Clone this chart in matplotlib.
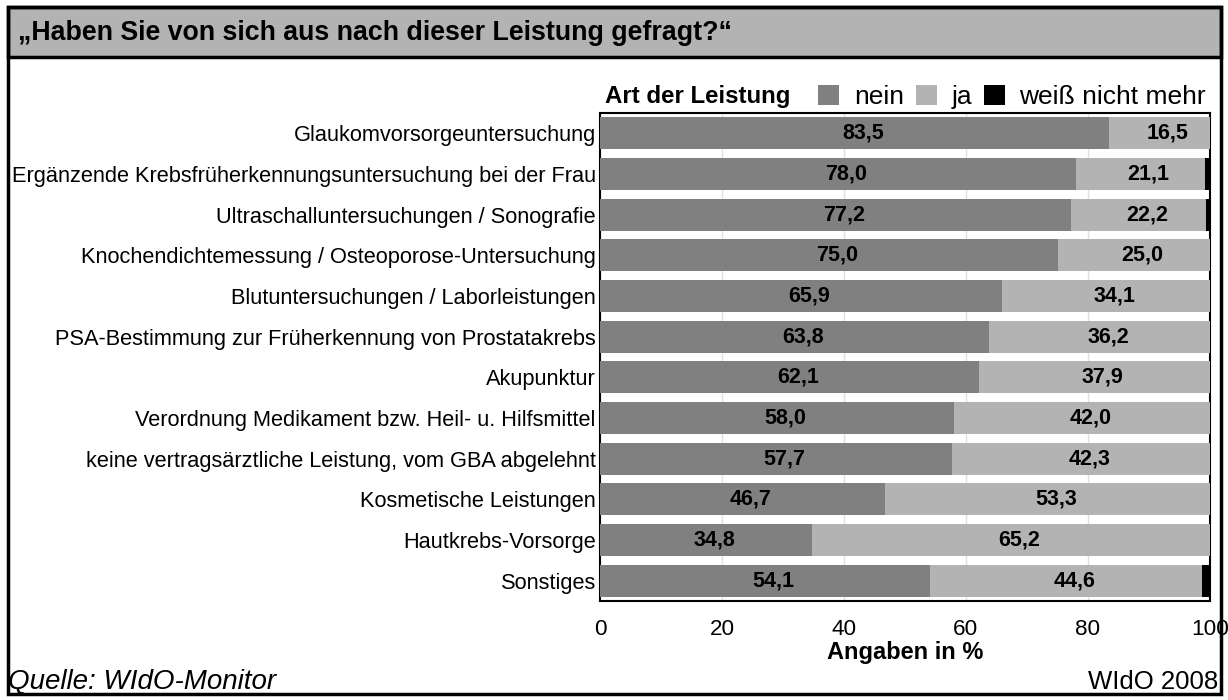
import matplotlib
matplotlib.use("Agg")
import matplotlib.pyplot as plt
from matplotlib.patches import Rectangle
import matplotlib.transforms as mtransforms
import numpy as np

plt.rcParams['font.family'] = ['Liberation Sans', 'DejaVu Sans']

categories = [
    "Glaukomvorsorgeuntersuchung",
    "Ergänzende Krebsfrüherkennungsuntersuchung bei der Frau",
    "Ultraschalluntersuchungen / Sonografie",
    "Knochendichtemessung / Osteoporose-Untersuchung",
    "Blutuntersuchungen / Laborleistungen",
    "PSA-Bestimmung zur Früherkennung von Prostatakrebs",
    "Akupunktur",
    "Verordnung Medikament bzw. Heil- u. Hilfsmittel",
    "keine vertragsärztliche Leistung, vom GBA abgelehnt",
    "Kosmetische Leistungen",
    "Hautkrebs-Vorsorge",
    "Sonstiges",
]
nein = [83.5, 78.0, 77.2, 75.0, 65.9, 63.8, 62.1, 58.0, 57.7, 46.7, 34.8, 54.1]
ja = [16.5, 21.1, 22.2, 25.0, 34.1, 36.2, 37.9, 42.0, 42.3, 53.3, 65.2, 44.6]
weiss_nicht = [0.0, 0.9, 0.6, 0.0, 0.0, 0.0, 0.0, 0.0, 0.0, 0.0, 0.0, 1.3]
series_names = ["nein", "ja", "weiß nicht mehr"]
xticks = [0, 20, 40, 60, 80, 100]

c_nein = "#808080"
c_ja = "#b3b3b3"
c_wn = "#000000"

fig = plt.figure(figsize=(12.28, 7.0), dpi=100)
W, H = 1228, 700

def fx(px):
    return px / W

def fy(py):
    return 1 - py / H

# outer frame and title bar
fig.patches.append(Rectangle((fx(8), fy(57)), fx(1213), 50 / H, transform=fig.transFigure,
                             facecolor=c_ja, edgecolor="black", linewidth=2.5, zorder=0))
fig.patches.append(Rectangle((fx(8), fy(694)), fx(1213), 687 / H, transform=fig.transFigure,
                             facecolor="none", edgecolor="black", linewidth=2.5, zorder=5))
fig.text(fx(18), fy(33), "„Haben Sie von sich aus nach dieser Leistung gefragt?“",
         fontsize=19.3, fontweight="bold", va="center", ha="left")

ax = fig.add_axes([fx(600), fy(601), fx(1210) - fx(600), (601 - 113) / H])
y = np.arange(len(categories))
h = 0.78
ax.barh(y, nein, height=h, color=c_nein, zorder=3, label=series_names[0])
ax.barh(y, ja, left=nein, height=h, color=c_ja, zorder=3, label=series_names[1])
left2 = np.array(nein) + np.array(ja)
ax.barh(y, weiss_nicht, left=left2, height=h, color=c_wn, zorder=3, label=series_names[2])

shift = mtransforms.offset_copy(ax.transData, fig=fig, x=6, y=0, units="points")
for i in range(len(categories)):
    ax.text(nein[i] / 2, y[i], f"{nein[i]:.1f}".replace(".", ","), ha="center", va="center",
            fontsize=15.5, fontweight="bold", zorder=4, transform=shift)
    ax.text(nein[i] + ja[i] / 2, y[i], f"{ja[i]:.1f}".replace(".", ","), ha="center", va="center",
            fontsize=15.5, fontweight="bold", zorder=4, transform=shift)

ax.set_xlim(0, 100)
ax.set_ylim(len(categories) - 0.5, -0.5)
ax.set_yticks(y)
ax.set_yticklabels(categories, fontsize=15.7)
ax.set_xticks(xticks)
ax.set_xticklabels([str(t) for t in xticks], fontsize=16.2)
ax.tick_params(axis="y", length=0, pad=3)
ax.tick_params(axis="x", length=0, pad=13)
ax.xaxis.grid(True, color="#e0e0e0", linewidth=1, zorder=0)
ax.set_axisbelow(True)
for s in ax.spines.values():
    s.set_linewidth(1.5)
    s.set_color("black")
ax.set_xlabel("Angaben in %", fontsize=17, fontweight="bold", labelpad=1)

leg = ax.legend(loc="lower right", bbox_to_anchor=(1.0, 1.0), ncol=3, frameon=False,
                fontsize=19, handlelength=0.8, handleheight=0.8, handletextpad=0.55,
                columnspacing=0.45, borderaxespad=0.0, borderpad=0.15)
fig.text(fx(605), fy(96), "Art der Leistung", fontsize=17.3, fontweight="bold", va="center", ha="left")

fig.text(fx(8), fy(682), "Quelle: WIdO-Monitor", fontsize=20, fontstyle="italic", va="center", ha="left")
fig.text(fx(1218), fy(682), "WIdO 2008", fontsize=18.5, va="center", ha="right")

fig.savefig("out.png", dpi=100)
